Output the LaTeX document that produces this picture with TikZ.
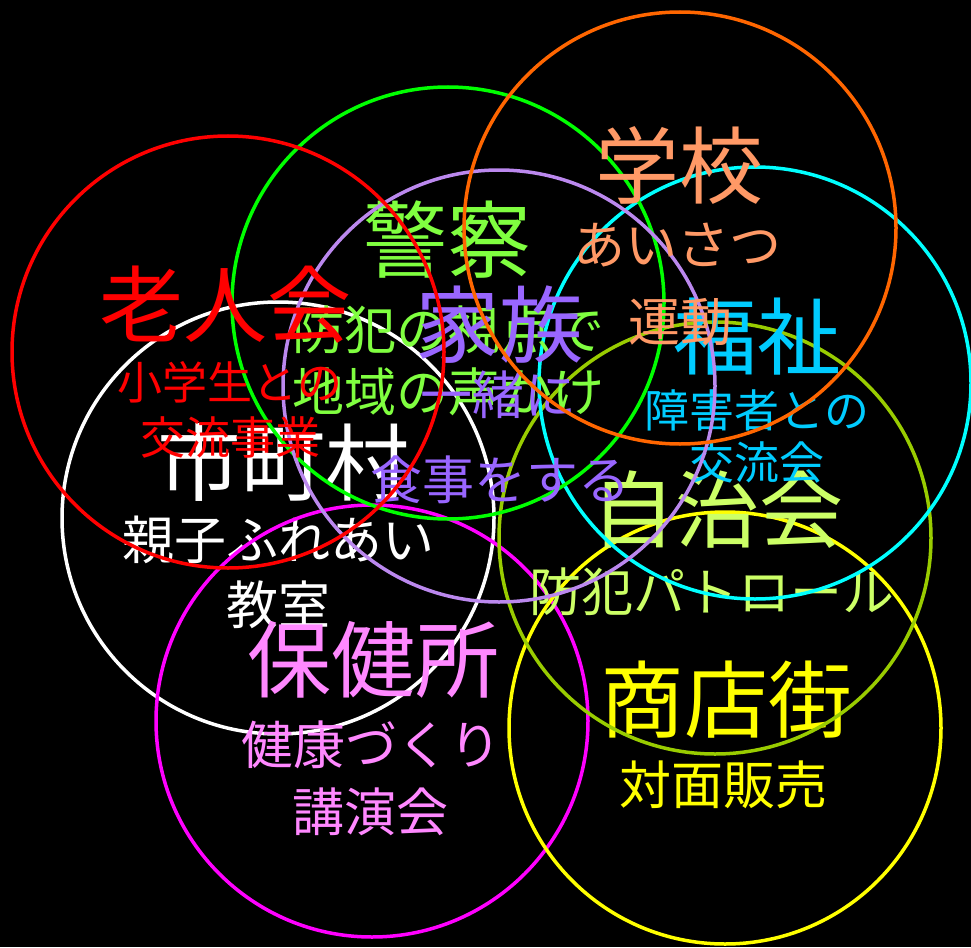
\documentclass[tikz,border=0pt]{standalone}
\usepackage{fontspec}
\setmainfont{Noto Sans CJK JP}
\usepackage{tikz}
\usetikzlibrary{positioning}
\usepackage{xcolor}

\definecolor{rouj}{HTML}{FF0000}
\definecolor{keis}{HTML}{00FF00}
\definecolor{keist}{HTML}{80FF40}
\definecolor{gakk}{HTML}{FF6600}
\definecolor{gakkt}{HTML}{FF9966}
\definecolor{fuku}{HTML}{00FFFF}
\definecolor{fukut}{HTML}{00CCFF}
\definecolor{kazo}{HTML}{BB88EE}
\definecolor{kazot}{HTML}{9966FF}
\definecolor{jich}{HTML}{99CC00}
\definecolor{jicht}{HTML}{CCFF66}
\definecolor{hoke}{HTML}{FF00FF}
\definecolor{hoket}{HTML}{FF88FF}
\definecolor{shot}{HTML}{FFFF00}

\begin{document}
\begin{tikzpicture}[
x=1pt,y=-1pt,
ring/.style={
  draw=#1,
  circle,
  line width=3.5pt,
  minimum size=432pt,
  inner sep=0pt
},
head/.style={
  text=#1,
  inner sep=0pt,
  font=\fontsize{84}{84}\selectfont
},
sub/.style={
  text=#1,
  inner sep=0pt,
  font=\fontsize{52}{52}\selectfont
},
small/.style={
  text=#1,
  inner sep=0pt,
  font=\fontsize{45}{45}\selectfont
}
]
\fill[black] (0,0) rectangle (971,947);
\useasboundingbox (0,0) rectangle (971,947);

\node[ring=white] (shi) at (278,518) {};
\node[head=white] (shiT) at (283,462) {市町村};
\node[sub=white] (shiA) at (278,540) {親子ふれあい};
\node[sub=white] (shiB) at (278,605) {教室};

\node[ring=hoke] (hok) at (372,721) {};
\node[head=hoket] (hokT) at (373,660) {保健所};
\node[sub=hoket] (hokA) at (371,745) {健康づくり};
\node[sub=hoket] (hokB) at (370,812) {講演会};

\node[ring=shot] (sho) at (725,728) {};
\node[head=shot] (shoT) at (726,700) {商店街};
\node[sub=shot] (shoA) at (723,785) {対面販売};

\node[ring=jich] (jic) at (715,538) {};
\node[head=jicht] (jicT) at (717,510) {自治会};
\node[sub=jicht] (jicA) at (712,592) {防犯パトロール};

\node[ring=fuku] (fuk) at (755,383) {};
\node[head=fukut] (fukT) at (757,337) {福祉};
\node[small=fukut] (fukA) at (757,410) {障害者との};
\node[small=fukut] (fukB) at (757,462) {交流会};

\node[ring=keis] (kei) at (448,303) {};
\node[head=keist] (keiT) at (447,240) {警察};
\node[sub=keist] (keiA) at (448,330) {防犯の視点で};
\node[sub=keist] (keiB) at (448,392) {地域の声かけ};

\node[ring=kazo] (kaz) at (499,386) {};
\node[head=kazot] (kazT) at (499,325) {家族};
\node[sub=kazot] (kazA) at (498,395) {一緒に};
\node[sub=kazot] (kazB) at (500,480) {食事をする};

\node[ring=gakk] (gak) at (680,228) {};
\node[head=gakkt] (gakT) at (679,165) {学校};
\node[sub=gakkt] (gakA) at (677,245) {あいさつ};
\node[sub=gakkt] (gakB) at (680,322) {運動};

\node[ring=rouj] (rou) at (228,352) {};
\node[head=rouj] (rouT) at (225,305) {老人会};
\node[small=rouj] (rouA) at (230,382) {小学生との};
\node[small=rouj] (rouB) at (230,437) {交流事業};
\end{tikzpicture}
\end{document}
